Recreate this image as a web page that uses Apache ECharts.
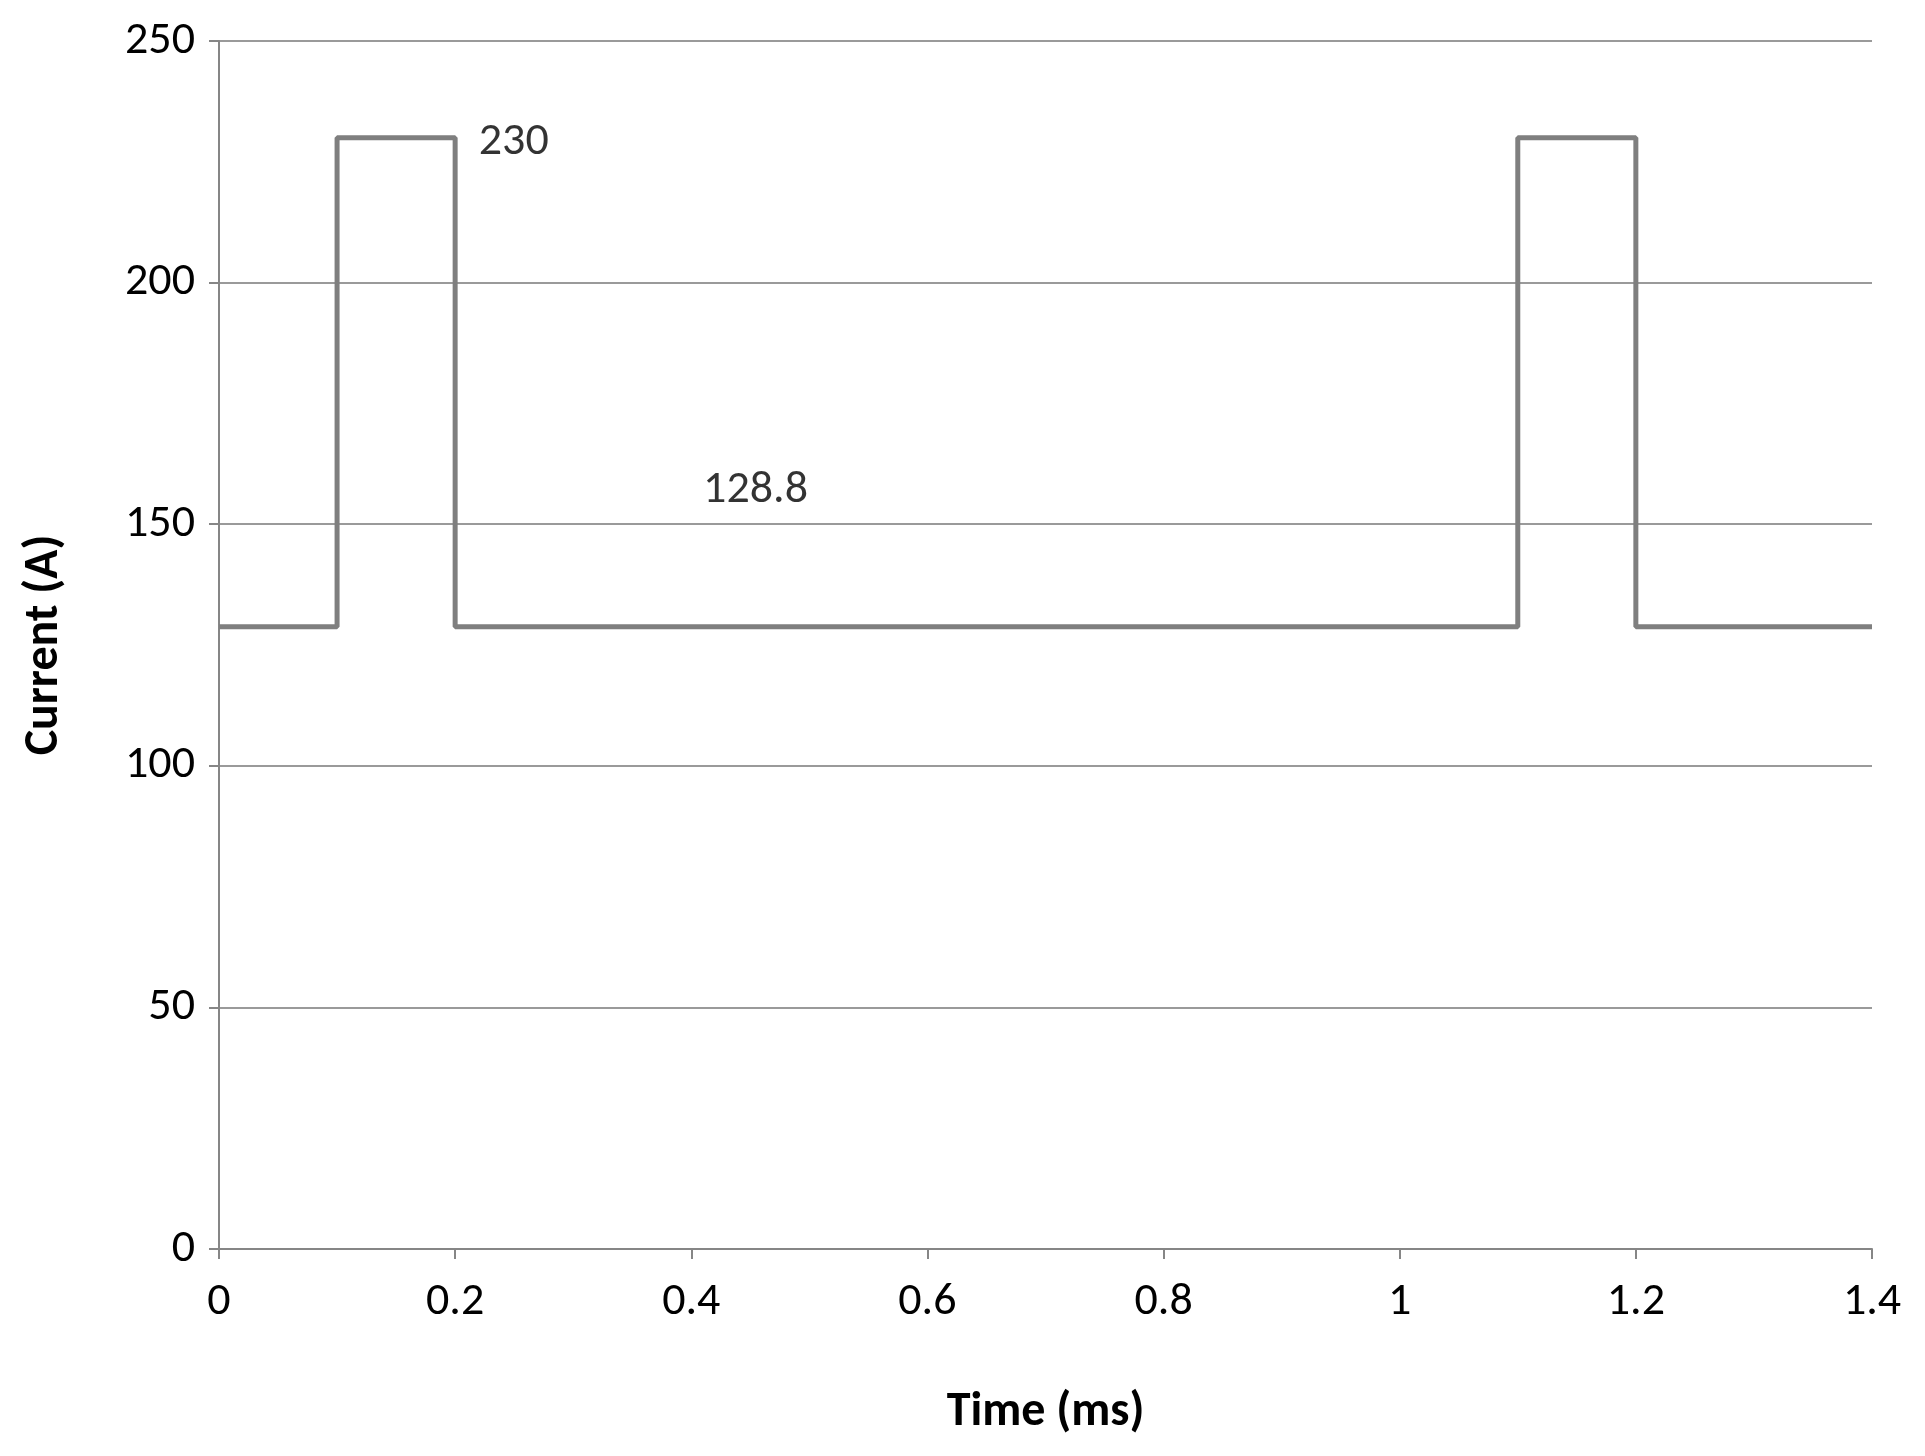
<!DOCTYPE html><html><head><meta charset="utf-8">
<script src="https://cdn.jsdelivr.net/npm/echarts@6/dist/echarts.min.js"></script>
<style>html,body{margin:0;background:#fff}#c{width:1925px;height:1456px}</style></head><body><div id="c"></div>
<script>
const timeMs = [0, 0.1, 0.1, 0.2, 0.2, 1.1, 1.1, 1.2, 1.2, 1.4];
const currentA = [128.8, 128.8, 230, 230, 128.8, 128.8, 230, 230, 128.8, 128.8];
const annotations = [{x:0.22, y:229, text:'230'}, {x:0.41, y:157, text:'128.8'}];
const ch = echarts.init(document.getElementById('c'));
const f = 'Calibri, Carlito, "Open Sans", sans-serif';
ch.setOption({
  animation:false,
  grid:{left:219,right:53,top:41,bottom:207},
  xAxis:{type:'value',min:0,max:1.4,interval:0.2,name:'Time (ms)',nameLocation:'middle',nameGap:140,
    nameTextStyle:{fontSize:48,fontWeight:'bold',color:'#000',fontFamily:f},
    axisLine:{lineStyle:{color:'#868686',width:2}},axisTick:{show:true,length:10,lineStyle:{color:'#868686',width:2}},
    axisLabel:{fontSize:46,color:'#000',margin:30,fontFamily:f},splitLine:{show:false}},
  yAxis:{type:'value',min:0,max:250,interval:50,name:'Current (A)',nameLocation:'middle',nameGap:150,
    nameTextStyle:{fontSize:48,fontWeight:'bold',color:'#000',fontFamily:f},
    axisLine:{show:true,lineStyle:{color:'#868686',width:2}},axisTick:{show:true,length:10,lineStyle:{color:'#868686',width:2}},
    axisLabel:{fontSize:46,color:'#000',margin:24,fontFamily:f},splitLine:{lineStyle:{color:'#9a9a9a',width:2}}},
  series:[{type:'line',data:timeMs.map((t,i)=>[t,currentA[i]]),symbol:'none',lineStyle:{color:'#7f7f7f',width:5},z:5},
    {type:'scatter',symbolSize:0,data:annotations.map(a=>[a.x,a.y]),
     label:{show:true,position:'right',distance:0,fontSize:46,color:'#000',fontFamily:f,
       formatter:p=>annotations[p.dataIndex].text}}]
});
</script></body></html>
